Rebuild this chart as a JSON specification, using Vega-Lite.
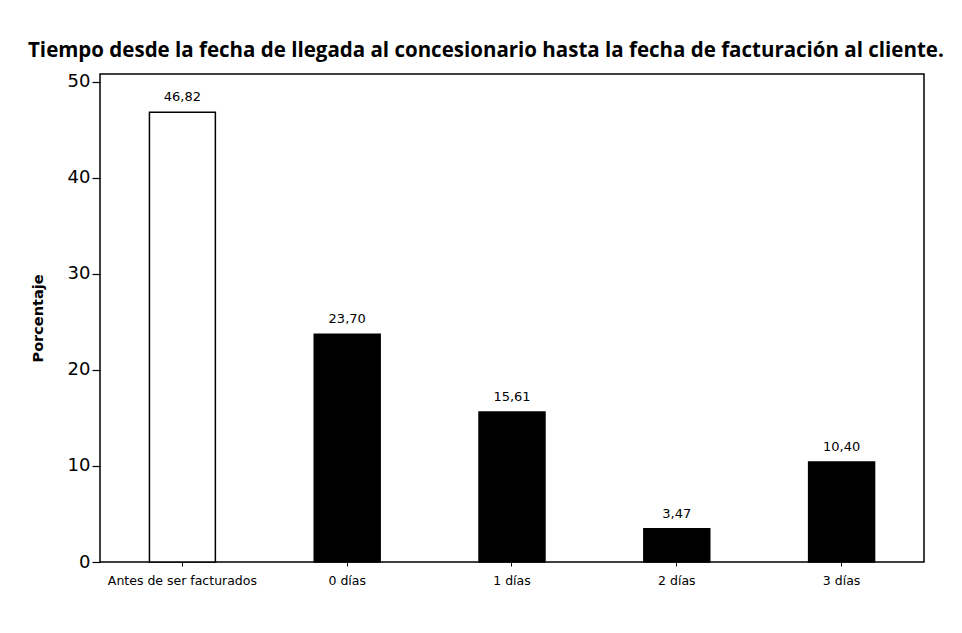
{
  "$schema": "https://vega.github.io/schema/vega-lite/v6.json",
  "autosize": "none",
  "width": 824,
  "height": 488,
  "padding": {"left": 100, "top": 74, "right": 38, "bottom": 71},
  "background": "white",
  "title": {
    "text": "Tiempo desde la fecha de llegada al concesionario hasta la fecha de facturación al cliente.",
    "anchor": "start",
    "frame": "group",
    "dx": -72,
    "offset": 11,
    "font": "Open Sans",
    "fontSize": 20.5,
    "fontWeight": "bold",
    "color": "black"
  },
  "data": {
    "values": [
      {"categoria": "Antes de ser facturados", "porcentaje": 46.82},
      {"categoria": "0 días", "porcentaje": 23.70},
      {"categoria": "1 días", "porcentaje": 15.61},
      {"categoria": "2 días", "porcentaje": 3.47},
      {"categoria": "3 días", "porcentaje": 10.40}
    ]
  },
  "encoding": {
    "x": {
      "field": "categoria",
      "type": "nominal",
      "sort": null,
      "scale": {"paddingInner": 0.6, "paddingOuter": 0.3},
      "axis": {
        "title": null,
        "labelAngle": 0,
        "labelFont": "DejaVu Sans",
        "labelFontSize": 12.5,
        "labelColor": "black",
        "labelPadding": 8,
        "tickColor": "black",
        "tickSize": 4,
        "domain": false
      }
    },
    "y": {
      "field": "porcentaje",
      "type": "quantitative",
      "scale": {"domain": [0, 50.8], "nice": false},
      "axis": {
        "title": "Porcentaje",
        "titleFont": "DejaVu Sans",
        "titleFontSize": 14.5,
        "titleFontWeight": "bold",
        "titleColor": "black",
        "titlePadding": 22,
        "values": [0, 10, 20, 30, 40, 50],
        "labelFont": "DejaVu Sans",
        "labelFontSize": 18,
        "labelColor": "black",
        "labelPadding": 2,
        "tickColor": "black",
        "tickSize": 8,
        "tickWidth": 1.2,
        "grid": false,
        "domain": false
      }
    }
  },
  "layer": [
    {
      "mark": {"type": "bar", "stroke": "black", "strokeWidth": 1.5},
      "encoding": {
        "fill": {
          "condition": {"test": "datum.categoria === 'Antes de ser facturados'", "value": "white"},
          "value": "black"
        }
      }
    },
    {
      "mark": {"type": "text", "dy": -15, "font": "DejaVu Sans", "fontSize": 13, "color": "black"},
      "encoding": {
        "text": {"field": "porcentaje", "type": "quantitative", "format": ".2f"}
      }
    }
  ],
  "config": {
    "locale": {
      "number": {"decimal": ",", "thousands": ".", "grouping": [3], "currency": ["", " €"]}
    },
    "view": {"stroke": "black", "strokeWidth": 1.5}
  }
}
